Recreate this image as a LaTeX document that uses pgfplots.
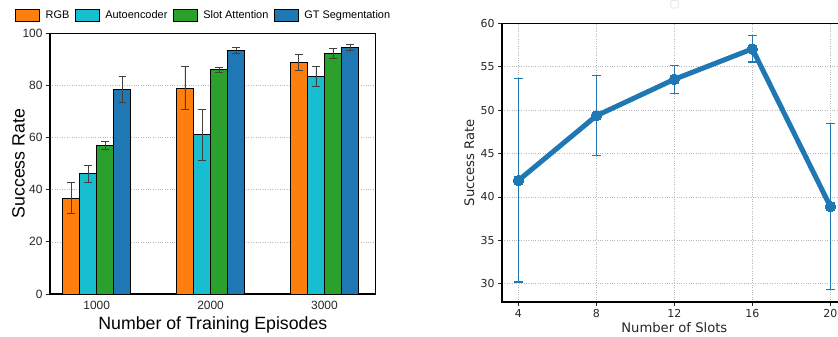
\documentclass[border=0pt]{standalone}
\usepackage{pgfplots}
\pgfplotsset{compat=1.18}
\usepackage{fontspec}
\setmainfont{Liberation Sans}
\newfontfamily\dejavu{DejaVu Sans}
\definecolor{c1}{HTML}{FF7F0E}
\definecolor{c2}{HTML}{17BECF}
\definecolor{c3}{HTML}{2CA02C}
\definecolor{c4}{HTML}{1F77B4}
\definecolor{tk}{HTML}{262626}
\begin{document}
\begin{tikzpicture}
\clip (0,0) rectangle (838bp,337bp);
\begin{axis}[
  at={(50bp,43bp)}, anchor=south west,
  scale only axis, width=325.7bp, height=260.7bp,
  xmin=-0.41, xmax=2.45, ymin=0, ymax=100,
  xtick={0,1,2}, xticklabels={1000,2000,3000},
  ytick={0,20,40,60,80,100},
  xtick style={draw=none},
  ytick pos=left, tick align=outside, major tick length=4bp,
  ytick style={line width=0.8bp, color=tk},
  axis line style={line width=1.1bp, black},
  ymajorgrids, grid style={dotted, gray!55, line width=0.6bp},
  /pgf/number format/assume math mode=true,
  ticklabel style={font=\fontsize{12}{14}\selectfont, text=tk},
  xlabel={Number of Training Episodes},
  ylabel={Success Rate},
  label style={font=\fontsize{17.8}{20}\selectfont},
  xlabel style={at={(axis description cs:0.5,-0.119)}, anchor=center},
  ylabel style={at={(axis description cs:-0.097,0.5)}, anchor=center},
  ybar, bar width=0.15,
  legend image code/.code={\draw[#1, draw=black, line width=0.8bp] (0bp,-6bp) rectangle (24bp,6bp); \path (27.5bp,0bp);},
  legend style={at={(axis description cs:-0.107,1.0675)}, anchor=west, draw=none, fill=none,
    font=\fontsize{11}{13}\selectfont, inner sep=0pt,
    /tikz/every even column/.append style={column sep=3.5bp}},
  legend columns=4,
  error bars/error bar style={line width=0.8bp, color=black!75},
  error bars/error mark options={line width=0.8bp, color=black!75, mark size=3.8bp, rotate=90},
]
\addplot[fill=c1, draw=black, line width=0.9bp, bar shift=-0.225, error bars/.cd, y dir=both, y explicit]
 coordinates {(0,36.8) +- (0,6.0) (1,79.0) +- (0,8.3) (2,88.9) +- (0,3.0)};
\addplot[fill=c2, draw=black, line width=0.9bp, bar shift=-0.075, error bars/.cd, y dir=both, y explicit]
 coordinates {(0,46.1) +- (0,3.3) (1,61.2) +- (0,9.8) (2,83.6) +- (0,3.8)};
\addplot[fill=c3, draw=black, line width=0.9bp, bar shift=0.075, error bars/.cd, y dir=both, y explicit]
 coordinates {(0,57.0) +- (0,1.5) (1,86.0) +- (0,1.1) (2,92.3) +- (0,2.0)};
\addplot[fill=c4, draw=black, line width=0.9bp, bar shift=0.225, error bars/.cd, y dir=both, y explicit]
 coordinates {(0,78.6) +- (0,5.0) (1,93.5) +- (0,1.2) (2,94.7) +- (0,1.2)};
\legend{RGB, Autoencoder, Slot Attention, GT Segmentation}
\end{axis}
\begin{axis}[
  at={(502bp,35bp)}, anchor=south west,
  scale only axis, width=344.7bp, height=278.7bp,
  xmin=3.16, xmax=20.84, ymin=27.9, ymax=60,
  xtick={4,8,12,16,20}, ytick={30,35,40,45,50,55,60},
  tick pos=left, tick align=outside, major tick length=4bp,
  tick style={line width=0.8bp, color=tk},
  axis line style={line width=1.1bp, black},
  grid=major, grid style={dotted, gray!55, line width=0.6bp},
  /pgf/number format/assume math mode=true,
  ticklabel style={font=\dejavu\fontsize{11}{13}\selectfont, text=tk},
  xlabel={Number of Slots}, ylabel={Success Rate},
  label style={font=\dejavu\fontsize{13.2}{15}\selectfont, text=tk},
  xlabel style={at={(axis description cs:0.5,-0.091)}, anchor=center},
  ylabel style={at={(axis description cs:-0.095,0.5)}, anchor=center},
]
\addplot[color=c4, line width=5bp, line join=round, mark=*, mark size=5.3bp, mark options={line width=0bp, fill=c4},
  error bars/.cd, y dir=both, y explicit,
  error bar style={line width=1.2bp, color=c4},
  error mark options={line width=1.2bp, color=c4, mark size=4.5bp, rotate=90}]
 coordinates {(4,41.9) +- (0,11.7) (8,49.35) +- (0,4.6) (12,53.55) +- (0,1.6) (16,57.05) +- (0,1.5) (20,38.9) +- (0,9.6)};
\end{axis}
\draw[gray!25, line width=0.6bp, rounded corners=1bp] (670.7bp,329bp) rectangle (678.3bp,336.3bp);
\end{tikzpicture}
\end{document}
